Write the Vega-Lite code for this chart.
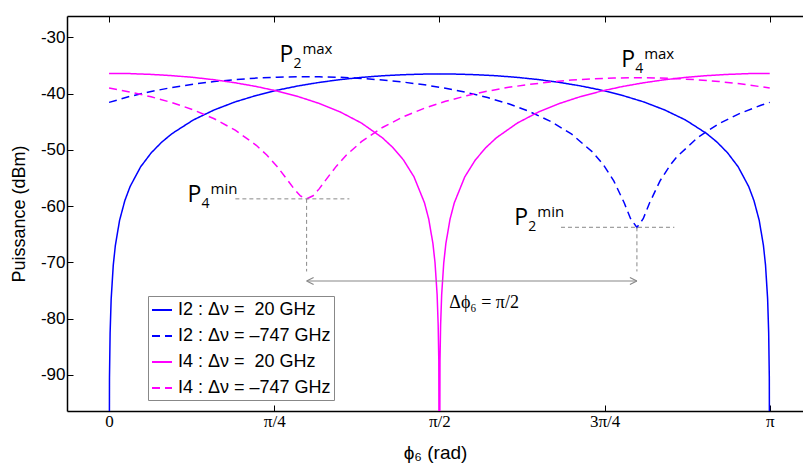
{
"$schema": "https://vega.github.io/schema/vega-lite/v6.json",
"width": 736, "height": 395,
"autosize": {"type": "none"},
"padding": {"left": 67, "top": 16, "right": 0, "bottom": 52},
"config": {"view": {"stroke": null}, "font": "Liberation Sans", "axisRight": {"domain": false, "ticks": false, "labels": false, "grid": false}},
"datasets": {
"curves": [
{"phi":0,"p":-130,"s":"I2_20"},{"phi":0.002,"p":-90.48,"s":"I2_20"},{"phi":0.005,"p":-82.52,"s":"I2_20"},{"phi":0.01,"p":-76.5,"s":"I2_20"},{"phi":0.02,"p":-70.48,"s":"I2_20"},{"phi":0.03,"p":-66.96,"s":"I2_20"},{"phi":0.05,"p":-62.52,"s":"I2_20"},{"phi":0.075,"p":-59.01,"s":"I2_20"},{"phi":0.1,"p":-56.51,"s":"I2_20"},{"phi":0.15,"p":-53.01,"s":"I2_20"},{"phi":0.2,"p":-50.54,"s":"I2_20"},{"phi":0.25,"p":-48.63,"s":"I2_20"},{"phi":0.3,"p":-47.09,"s":"I2_20"},{"phi":0.4,"p":-44.69,"s":"I2_20"},{"phi":0.5,"p":-42.89,"s":"I2_20"},{"phi":0.6,"p":-41.46,"s":"I2_20"},{"phi":0.7,"p":-40.32,"s":"I2_20"},{"phi":0.8,"p":-39.38,"s":"I2_20"},{"phi":0.9,"p":-38.62,"s":"I2_20"},{"phi":1.0,"p":-38.0,"s":"I2_20"},{"phi":1.1,"p":-37.5,"s":"I2_20"},{"phi":1.2,"p":-37.11,"s":"I2_20"},{"phi":1.3,"p":-36.82,"s":"I2_20"},{"phi":1.4,"p":-36.63,"s":"I2_20"},{"phi":1.5,"p":-36.52,"s":"I2_20"},{"phi":1.5708,"p":-36.5,"s":"I2_20"},{"phi":1.6416,"p":-36.52,"s":"I2_20"},{"phi":1.7416,"p":-36.63,"s":"I2_20"},{"phi":1.8416,"p":-36.82,"s":"I2_20"},{"phi":1.9416,"p":-37.11,"s":"I2_20"},{"phi":2.0416,"p":-37.5,"s":"I2_20"},{"phi":2.1416,"p":-38.0,"s":"I2_20"},{"phi":2.2416,"p":-38.62,"s":"I2_20"},{"phi":2.3416,"p":-39.38,"s":"I2_20"},{"phi":2.4416,"p":-40.32,"s":"I2_20"},{"phi":2.5416,"p":-41.46,"s":"I2_20"},{"phi":2.6416,"p":-42.89,"s":"I2_20"},{"phi":2.7416,"p":-44.69,"s":"I2_20"},{"phi":2.8416,"p":-47.09,"s":"I2_20"},{"phi":2.8916,"p":-48.63,"s":"I2_20"},{"phi":2.9416,"p":-50.54,"s":"I2_20"},{"phi":2.9916,"p":-53.01,"s":"I2_20"},{"phi":3.0416,"p":-56.51,"s":"I2_20"},{"phi":3.0666,"p":-59.01,"s":"I2_20"},{"phi":3.0916,"p":-62.52,"s":"I2_20"},{"phi":3.1116,"p":-66.96,"s":"I2_20"},{"phi":3.1216,"p":-70.48,"s":"I2_20"},{"phi":3.1316,"p":-76.5,"s":"I2_20"},{"phi":3.1366,"p":-82.52,"s":"I2_20"},{"phi":3.1396,"p":-90.48,"s":"I2_20"},{"phi":3.1416,"p":-130,"s":"I2_20"},
{"phi":0,"p":-41.55,"s":"I2_747"},{"phi":0.1,"p":-40.48,"s":"I2_747"},{"phi":0.2,"p":-39.61,"s":"I2_747"},{"phi":0.3,"p":-38.9,"s":"I2_747"},{"phi":0.4,"p":-38.32,"s":"I2_747"},{"phi":0.5,"p":-37.85,"s":"I2_747"},{"phi":0.6,"p":-37.5,"s":"I2_747"},{"phi":0.7,"p":-37.24,"s":"I2_747"},{"phi":0.8,"p":-37.07,"s":"I2_747"},{"phi":0.9,"p":-37.0,"s":"I2_747"},{"phi":1.0,"p":-37.01,"s":"I2_747"},{"phi":1.1,"p":-37.1,"s":"I2_747"},{"phi":1.2,"p":-37.29,"s":"I2_747"},{"phi":1.3,"p":-37.57,"s":"I2_747"},{"phi":1.4,"p":-37.95,"s":"I2_747"},{"phi":1.5,"p":-38.43,"s":"I2_747"},{"phi":1.6,"p":-39.04,"s":"I2_747"},{"phi":1.7,"p":-39.78,"s":"I2_747"},{"phi":1.8,"p":-40.7,"s":"I2_747"},{"phi":1.9,"p":-41.81,"s":"I2_747"},{"phi":2.0,"p":-43.19,"s":"I2_747"},{"phi":2.1,"p":-44.93,"s":"I2_747"},{"phi":2.2,"p":-47.21,"s":"I2_747"},{"phi":2.3,"p":-50.41,"s":"I2_747"},{"phi":2.35,"p":-52.61,"s":"I2_747"},{"phi":2.4,"p":-55.49,"s":"I2_747"},{"phi":2.45,"p":-59.44,"s":"I2_747"},{"phi":2.48,"p":-62.23,"s":"I2_747"},{"phi":2.51,"p":-63.78,"s":"I2_747"},{"phi":2.54,"p":-62.23,"s":"I2_747"},{"phi":2.57,"p":-59.44,"s":"I2_747"},{"phi":2.62,"p":-55.49,"s":"I2_747"},{"phi":2.67,"p":-52.61,"s":"I2_747"},{"phi":2.7,"p":-51.23,"s":"I2_747"},{"phi":2.8,"p":-47.76,"s":"I2_747"},{"phi":2.9,"p":-45.34,"s":"I2_747"},{"phi":3.0,"p":-43.51,"s":"I2_747"},{"phi":3.1,"p":-42.06,"s":"I2_747"},{"phi":3.1416,"p":-41.55,"s":"I2_747"},
{"phi":0,"p":-36.4,"s":"I4_20"},{"phi":0.1,"p":-36.44,"s":"I4_20"},{"phi":0.2,"p":-36.58,"s":"I4_20"},{"phi":0.3,"p":-36.8,"s":"I4_20"},{"phi":0.4,"p":-37.11,"s":"I4_20"},{"phi":0.5,"p":-37.53,"s":"I4_20"},{"phi":0.6,"p":-38.07,"s":"I4_20"},{"phi":0.7,"p":-38.73,"s":"I4_20"},{"phi":0.8,"p":-39.54,"s":"I4_20"},{"phi":0.9,"p":-40.53,"s":"I4_20"},{"phi":1.0,"p":-41.75,"s":"I4_20"},{"phi":1.1,"p":-43.27,"s":"I4_20"},{"phi":1.2,"p":-45.22,"s":"I4_20"},{"phi":1.3,"p":-47.85,"s":"I4_20"},{"phi":1.35,"p":-49.59,"s":"I4_20"},{"phi":1.4,"p":-51.79,"s":"I4_20"},{"phi":1.45,"p":-54.78,"s":"I4_20"},{"phi":1.5,"p":-59.41,"s":"I4_20"},{"phi":1.52,"p":-62.28,"s":"I4_20"},{"phi":1.54,"p":-66.63,"s":"I4_20"},{"phi":1.55,"p":-70.04,"s":"I4_20"},{"phi":1.56,"p":-75.73,"s":"I4_20"},{"phi":1.565,"p":-81.13,"s":"I4_20"},{"phi":1.568,"p":-87.46,"s":"I4_20"},{"phi":1.5708,"p":-130,"s":"I4_20"},{"phi":1.5736,"p":-87.46,"s":"I4_20"},{"phi":1.5766,"p":-81.13,"s":"I4_20"},{"phi":1.5816,"p":-75.73,"s":"I4_20"},{"phi":1.5916,"p":-70.04,"s":"I4_20"},{"phi":1.6016,"p":-66.63,"s":"I4_20"},{"phi":1.6216,"p":-62.28,"s":"I4_20"},{"phi":1.6416,"p":-59.41,"s":"I4_20"},{"phi":1.6916,"p":-54.78,"s":"I4_20"},{"phi":1.7416,"p":-51.79,"s":"I4_20"},{"phi":1.7916,"p":-49.59,"s":"I4_20"},{"phi":1.8416,"p":-47.85,"s":"I4_20"},{"phi":1.9416,"p":-45.22,"s":"I4_20"},{"phi":2.0416,"p":-43.27,"s":"I4_20"},{"phi":2.1416,"p":-41.75,"s":"I4_20"},{"phi":2.2416,"p":-40.53,"s":"I4_20"},{"phi":2.3416,"p":-39.54,"s":"I4_20"},{"phi":2.4416,"p":-38.73,"s":"I4_20"},{"phi":2.5416,"p":-38.07,"s":"I4_20"},{"phi":2.6416,"p":-37.53,"s":"I4_20"},{"phi":2.7416,"p":-37.11,"s":"I4_20"},{"phi":2.8416,"p":-36.8,"s":"I4_20"},{"phi":2.9416,"p":-36.58,"s":"I4_20"},{"phi":3.0416,"p":-36.44,"s":"I4_20"},{"phi":3.1416,"p":-36.4,"s":"I4_20"},
{"phi":0,"p":-39.01,"s":"I4_747"},{"phi":0.1,"p":-39.71,"s":"I4_747"},{"phi":0.2,"p":-40.56,"s":"I4_747"},{"phi":0.3,"p":-41.6,"s":"I4_747"},{"phi":0.4,"p":-42.87,"s":"I4_747"},{"phi":0.5,"p":-44.46,"s":"I4_747"},{"phi":0.6,"p":-46.49,"s":"I4_747"},{"phi":0.7,"p":-49.18,"s":"I4_747"},{"phi":0.75,"p":-50.91,"s":"I4_747"},{"phi":0.8,"p":-52.99,"s":"I4_747"},{"phi":0.85,"p":-55.42,"s":"I4_747"},{"phi":0.88,"p":-56.94,"s":"I4_747"},{"phi":0.91,"p":-58.19,"s":"I4_747"},{"phi":0.9394,"p":-58.69,"s":"I4_747"},{"phi":0.97,"p":-58.15,"s":"I4_747"},{"phi":1.0,"p":-56.88,"s":"I4_747"},{"phi":1.03,"p":-55.36,"s":"I4_747"},{"phi":1.08,"p":-52.93,"s":"I4_747"},{"phi":1.13,"p":-50.87,"s":"I4_747"},{"phi":1.2,"p":-48.54,"s":"I4_747"},{"phi":1.3,"p":-46.01,"s":"I4_747"},{"phi":1.4,"p":-44.09,"s":"I4_747"},{"phi":1.5,"p":-42.58,"s":"I4_747"},{"phi":1.6,"p":-41.36,"s":"I4_747"},{"phi":1.7,"p":-40.37,"s":"I4_747"},{"phi":1.8,"p":-39.55,"s":"I4_747"},{"phi":1.9,"p":-38.88,"s":"I4_747"},{"phi":2.0,"p":-38.35,"s":"I4_747"},{"phi":2.1,"p":-37.92,"s":"I4_747"},{"phi":2.2,"p":-37.59,"s":"I4_747"},{"phi":2.3,"p":-37.36,"s":"I4_747"},{"phi":2.4,"p":-37.22,"s":"I4_747"},{"phi":2.5,"p":-37.17,"s":"I4_747"},{"phi":2.6,"p":-37.2,"s":"I4_747"},{"phi":2.7,"p":-37.33,"s":"I4_747"},{"phi":2.8,"p":-37.54,"s":"I4_747"},{"phi":2.9,"p":-37.84,"s":"I4_747"},{"phi":3.0,"p":-38.25,"s":"I4_747"},{"phi":3.1,"p":-38.77,"s":"I4_747"},{"phi":3.1416,"p":-39.01,"s":"I4_747"}
],
"guides": [
{"x":0.6006,"x2":1.1427,"y":-58.7,"y2":-58.7},
{"x":2.149,"x2":2.688,"y":-63.75,"y2":-63.75},
{"x":0.9394,"x2":0.9394,"y":-58.7,"y2":-71.6},
{"x":2.51,"x2":2.51,"y":-63.75,"y2":-71.6}
],
"arrow": [{"x":0.9394,"x2":2.51,"y":-73.3}],
"heads": [{"x":0.9394,"y":-73.3,"dir":"L"},{"x":2.51,"y":-73.3,"dir":"R"}],
"plabels": [
{"x":0.81,"y":-34.33,"sub":"2","sup":"max"},
{"x":2.435,"y":-35.22,"sub":"4","sup":"max"},
{"x":0.3733,"y":-59.2,"sub":"4","sup":"min"},
{"x":1.927,"y":-63.34,"sub":"2","sup":"min"}
],
"dlabel": [{"x":1.618,"y":-78.08,"t":"Δϕ₆ = π/2"}]
},
"layer": [
{"data":{"name":"curves"},
 "mark":{"type":"line","clip":true,"strokeWidth":1.5},
 "encoding":{
  "x":{"field":"phi","type":"quantitative","scale":{"domain":[-0.2,3.2998],"nice":false,"zero":false},
   "axis":{"orient":"bottom","values":[0,0.7854,1.5708,2.3562,3.1416],
    "labelExpr":"datum.value < 0.1 ? '0' : datum.value < 1 ? 'π/4' : datum.value < 2 ? 'π/2' : datum.value < 3 ? '3π/4' : 'π'",
    "labelFont":"Liberation Serif","labelFontSize":17,"labelColor":"#000","labelPadding":8,"labelFlush":false,"labelOverlap":false,
    "title":"ϕ₆ (rad)","titleFont":"Liberation Sans","titleFontSize":19,"titleFontWeight":"normal","titleColor":"#000","titlePadding":14,
    "tickSize":-6,"tickColor":"#000","tickWidth":1,"domainColor":"#000","domainWidth":1.5,"grid":false}},
  "y":{"field":"p","type":"quantitative","scale":{"domain":[-96.4,-26.2],"nice":false,"zero":false},
   "axis":{"orient":"left","values":[-90,-80,-70,-60,-50,-40,-30],"labelExpr":"'-' + (-datum.value)",
    "labelFont":"Liberation Sans","labelFontSize":17,"labelColor":"#000","labelPadding":8,
    "title":"Puissance (dBm)","titleFont":"Liberation Sans","titleFontSize":18,"titleFontWeight":"normal","titleColor":"#000","titlePadding":12,
    "tickSize":-6,"tickColor":"#000","tickWidth":1,"domainColor":"#000","domainWidth":1.5,"grid":false}},
  "color":{"field":"s","type":"nominal",
   "scale":{"domain":["I2_20","I2_747","I4_20","I4_747"],"range":["#0000ff","#0000ff","#ff00ff","#ff00ff"]},
   "legend":{"title":null,"orient":"none","legendX":81,"legendY":280,"symbolType":"stroke","symbolSize":400,"symbolStrokeWidth":2,
    "labelExpr":"datum.value == 'I2_20' ? 'I2 : Δν = \u00a020 GHz' : datum.value == 'I2_747' ? 'I2 : Δν = –747 GHz' : datum.value == 'I4_20' ? 'I4 : Δν = \u00a020 GHz' : 'I4 : Δν = –747 GHz'",
    "labelFont":"Liberation Sans","labelFontSize":18,"labelColor":"#000","labelLimit":300,"labelOffset":5,"rowPadding":6,"padding":3,
    "strokeColor":"#888","fillColor":"#fff","cornerRadius":0}},
  "strokeDash":{"field":"s","type":"nominal",
   "scale":{"domain":["I2_20","I2_747","I4_20","I4_747"],"range":[[1,0],[8,5],[1,0],[8,5]]},
   "legend":{"title":null,"orient":"none","legendX":81,"legendY":280,"symbolType":"stroke","symbolSize":400,"symbolStrokeWidth":2,
    "labelExpr":"datum.value == 'I2_20' ? 'I2 : Δν = \u00a020 GHz' : datum.value == 'I2_747' ? 'I2 : Δν = –747 GHz' : datum.value == 'I4_20' ? 'I4 : Δν = \u00a020 GHz' : 'I4 : Δν = –747 GHz'",
    "labelFont":"Liberation Sans","labelFontSize":18,"labelColor":"#000","labelLimit":300,"labelOffset":5,"rowPadding":6,"padding":3,
    "strokeColor":"#888","fillColor":"#fff","cornerRadius":0}}
 }},
{"data":{"name":"guides"},
 "mark":{"type":"rule","color":"#888","strokeWidth":1,"strokeDash":[4,3]},
 "encoding":{
  "x":{"field":"x","type":"quantitative","axis":{"orient":"top","labels":false,"title":null,"values":[0,0.7854,1.5708,2.3562,3.1416],"tickSize":-6,"tickColor":"#000","domainColor":"#000","domainWidth":1.5,"grid":false}},
  "x2":{"field":"x2"},
  "y":{"field":"y","type":"quantitative"},
  "y2":{"field":"y2"}
 }},
{"data":{"name":"arrow"},
 "mark":{"type":"rule","color":"#888","strokeWidth":1.2},
 "encoding":{
  "x":{"field":"x","type":"quantitative","axis":null},
  "x2":{"field":"x2"},
  "y":{"field":"y","type":"quantitative"}
 }},
{"data":{"name":"heads"},
 "mark":{"type":"point","filled":false,"color":"#888","strokeWidth":1.2,"size":196,"opacity":1},
 "encoding":{
  "x":{"field":"x","type":"quantitative","axis":null},
  "y":{"field":"y","type":"quantitative"},
  "shape":{"field":"dir","type":"nominal","scale":{"domain":["L","R"],"range":["M0,0L1,-0.5M0,0L1,0.5","M0,0L-1,-0.5M0,0L-1,0.5"]},"legend":null}
 }},
{"data":{"name":"plabels"},
 "mark":{"type":"text","text":"P","font":"Open Sans","fontSize":23,"align":"left","baseline":"alphabetic","color":"#000"},
 "encoding":{
  "x":{"field":"x","type":"quantitative","axis":null},
  "y":{"field":"y","type":"quantitative"}
 }},
{"data":{"name":"plabels"},
 "mark":{"type":"text","font":"Open Sans","fontSize":14,"align":"left","baseline":"alphabetic","color":"#000","dx":14,"dy":6},
 "encoding":{
  "x":{"field":"x","type":"quantitative","axis":null},
  "y":{"field":"y","type":"quantitative"},
  "text":{"field":"sub"}
 }},
{"data":{"name":"plabels"},
 "mark":{"type":"text","font":"Open Sans","fontSize":15,"align":"left","baseline":"alphabetic","color":"#000","dx":23,"dy":-8},
 "encoding":{
  "x":{"field":"x","type":"quantitative","axis":null},
  "y":{"field":"y","type":"quantitative"},
  "text":{"field":"sup"}
 }},
{"data":{"name":"dlabel"},
 "mark":{"type":"text","font":"Liberation Serif","fontSize":18,"align":"left","baseline":"alphabetic","color":"#000"},
 "encoding":{
  "x":{"field":"x","type":"quantitative","axis":null},
  "y":{"field":"y","type":"quantitative"},
  "text":{"field":"t"}
 }}
],
"resolve": {"axis": {"x": "independent"}}
}
